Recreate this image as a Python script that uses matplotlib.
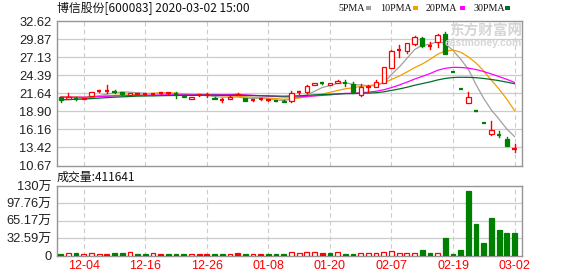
import matplotlib
matplotlib.use('Agg')
import matplotlib.pyplot as plt
import numpy as np
import pandas as pd
from matplotlib.patches import Rectangle

# ---------------- data ----------------
dates = ['11-29', '12-02', '12-03', '12-04', '12-05', '12-06', '12-09', '12-10', '12-11', '12-12',
         '12-13', '12-16', '12-17', '12-18', '12-19', '12-20', '12-23', '12-24', '12-25', '12-26',
         '12-27', '12-30', '12-31', '01-02', '01-03', '01-06', '01-07', '01-08', '01-09', '01-10',
         '01-13', '01-14', '01-15', '01-16', '01-17', '01-20', '01-21', '01-22', '01-23', '02-03',
         '02-04', '02-05', '02-06', '02-07', '02-10', '02-11', '02-12', '02-13', '02-14', '02-17',
         '02-18', '02-19', '02-20', '02-21', '02-24', '02-25', '02-26', '02-27', '02-28', '03-02']

open_ = [21.11, 20.78, 20.80, 20.80, 21.24, 21.95, 22.05, 21.92, 21.76, 21.45,
         21.55, 21.52, 21.50, 21.72, 21.63, 21.56, 21.30, 20.78, 21.55, 21.46,
         20.98, 20.62, 20.74, 21.60, 20.90, 20.62, 20.72, 20.58, 20.52, 20.53,
         20.53, 21.78, 21.80, 22.91, 23.18, 22.91, 23.26, 23.23, 23.07, 21.39,
         22.65, 22.66, 23.27, 25.55, 28.23, 28.13, 29.10, 30.02, 28.83, 29.41,
         30.67, 24.83, 22.35, 20.12, 19.00, 17.05, 15.42, 15.35, 14.70, 13.20]
close = [20.61, 21.00, 20.79, 20.90, 21.80, 22.00, 22.02, 21.88, 21.50, 21.62,
         21.60, 21.55, 21.55, 21.70, 21.65, 21.55, 21.05, 21.13, 21.35, 21.44,
         20.74, 20.63, 21.14, 21.45, 20.53, 20.63, 20.70, 20.62, 20.48, 20.33,
         21.65, 21.80, 22.76, 23.17, 23.17, 23.16, 23.52, 23.22, 21.90, 22.66,
         22.66, 23.42, 25.61, 28.13, 28.24, 29.26, 30.17, 28.85, 28.84, 30.52,
         27.59, 24.83, 22.35, 21.04, 18.94, 17.05, 16.07, 15.31, 13.68, 13.22]
high = [21.15, 21.67, 21.05, 20.95, 21.85, 22.15, 22.92, 22.20, 21.82, 21.70,
        21.65, 21.60, 21.60, 21.80, 21.70, 21.90, 21.35, 21.15, 21.60, 21.70,
        21.00, 20.88, 21.20, 21.62, 20.95, 20.75, 20.85, 20.70, 20.58, 20.58,
        22.00, 21.95, 22.85, 23.25, 23.30, 23.20, 23.60, 23.68, 23.37, 23.07,
        22.91, 23.68, 25.61, 28.17, 29.00, 29.30, 30.37, 30.26, 29.50, 30.67,
        31.02, 24.83, 22.35, 21.89, 19.05, 17.15, 17.44, 15.96, 15.05, 13.92]
low = [20.35, 20.70, 20.60, 20.75, 21.20, 21.80, 21.65, 21.70, 21.45, 21.40,
       21.50, 21.40, 21.45, 21.60, 21.58, 20.92, 21.00, 20.75, 21.30, 21.05,
       20.70, 20.30, 20.70, 21.40, 20.45, 20.50, 20.60, 20.50, 20.42, 20.30,
       20.37, 21.60, 21.75, 22.85, 23.05, 22.85, 23.20, 22.76, 21.70, 21.24,
       21.90, 22.60, 23.20, 25.50, 27.13, 27.78, 29.00, 28.65, 28.35, 28.74,
       27.59, 24.83, 22.35, 20.12, 18.94, 17.05, 15.35, 14.96, 13.68, 12.65]
# closes of the 29 sessions before the window (estimated from the starting MA levels)
prior_close = [19.55, 19.62, 19.70, 19.78, 19.85, 19.80, 19.88, 19.95, 20.02, 20.05,
               20.85, 21.05, 20.90, 21.00, 21.10, 20.95, 20.85, 21.00, 20.92, 20.98,
               21.10, 21.25, 21.30, 21.15, 21.20, 21.28, 21.22, 21.15, 21.15]
volume = [20000, 38000, 38000, 20000, 38000, 20000, 20000, 38000, 38000, 58000,
          20000, 20000, 38000, 20000, 20000, 20000, 20000, 20000, 20000, 20000,
          20000, 20000, 20000, 38000, 20000, 20000, 20000, 20000, 20000, 20000,
          60000, 44000, 60000, 60000, 42000, 44000, 60000, 25000, 25000, 44000,
          44000, 44000, 60000, 80000, 44000, 44000, 44000, 100000, 44000, 44000,
          320000, 25000, 100000, 1200000, 590000, 230000, 700000, 470000, 417000, 411641]

ma_periods = [5, 10, 20, 30]
ma_names = ['5PMA', '10PMA', '20PMA', '30PMA']
price_ticks = [10.67, 13.42, 16.16, 18.90, 21.64, 24.39, 27.13, 29.87, 32.62]
vol_ticks = [0, 325900, 651700, 977600, 1300000]
vol_tick_labels = ['0', '32.59万', '65.17万', '97.76万', '130万']
title = '博信股份[600083] 2020-03-02 15:00'
vol_title = '成交量:411641'

# ---------------- style ----------------
RED = '#ff0000'
GREEN = '#008000'
MA_COLORS = ['#a0a0a0', '#f0a000', '#ff00ff', '#006e28']
GRID = '#cccccc'
SPINE = '#959595'
LABEL_FONT = ['Liberation Sans', 'Noto Sans CJK SC']
CJK_FONT = ['Noto Sans CJK SC', 'DejaVu Sans']

W, H = 578, 276
fig = plt.figure(figsize=(W / 100, H / 100), dpi=100)
fig.patch.set_facecolor('white')

def fx(px):
    return px / W

def fy(py):
    return 1 - py / H

ax = fig.add_axes([fx(57), fy(165.5), fx(465), 144.5 / H])
axv = fig.add_axes([fx(57), fy(255.5), fx(465), 69.5 / H])

n = len(close)
x = np.arange(n)
xlim = (-0.48, n - 0.03)

all_close = pd.Series(prior_close + close)
mas = [all_close.rolling(p).mean().values[len(prior_close):] for p in ma_periods]

tick_idx = list(range(3, n, 8))

for a in (ax, axv):
    a.set_xlim(*xlim)
    for s in a.spines.values():
        s.set_color(SPINE)
        s.set_linewidth(1.0)
    a.set_xticks(tick_idx)
    for t in tick_idx:
        a.axvline(t, color=GRID, lw=0.8, ls=(0, (4, 3)), zorder=0)
    a.tick_params(length=0, pad=4, labelsize=9.3, labelcolor='#222222')

ax.set_ylim(price_ticks[0], price_ticks[-1])
ax.set_yticks(price_ticks)
ax.set_yticklabels([f'{t:.2f}' for t in price_ticks], family=LABEL_FONT)
for t in price_ticks[1:-1]:
    ax.axhline(t, color=GRID, lw=0.9, zorder=0)
ax.set_xticklabels([])

axv.set_ylim(0, vol_ticks[-1])
axv.set_yticks(vol_ticks)
axv.set_yticklabels(vol_tick_labels, family=LABEL_FONT)
for t in vol_ticks[1:-1]:
    axv.axhline(t, color=GRID, lw=0.9, zorder=0)
axv.set_xticklabels([dates[i] for i in tick_idx], family=LABEL_FONT, color=RED, fontsize=9)
axv.tick_params(axis='x', pad=3, labelcolor=RED)

# ---------------- watermark ----------------
fig.text(fx(522), fy(31), '东方财富网', family=CJK_FONT, fontsize=10.5,
         fontweight='bold', color='#d6d6d6', ha='right', va='center', zorder=0.5)
fig.text(fx(522), fy(43), 'eastmoney.com', family=['Liberation Sans'],
         fontsize=7.4, fontweight='bold', color='#d6d6d6', ha='right', va='center', zorder=0.5)
ax.patch.set_alpha(0)

# ---------------- candles ----------------
bw = 0.56
min_body = 0.14
for i in range(n):
    o, c, h, l = open_[i], close[i], high[i], low[i]
    pc = close[i - 1] if i > 0 else prior_close[-1]
    if c > o:
        col, hollow = RED, True
    elif c < o:
        col, hollow = (RED if c > pc else GREEN), False
    else:
        col, hollow = (RED if c >= pc else GREEN), False
    top, bot = max(o, c), min(o, c)
    if top - bot < min_body * 0.6:
        ax.plot([i - bw / 2, i + bw / 2], [c, c], color=col, lw=1.6, solid_capstyle='butt', zorder=3)
        if h > l:
            ax.plot([i, i], [l, h], color=col, lw=1.0, zorder=3)
        continue
    if top - bot < min_body:
        mid = (top + bot) / 2
        top, bot = mid + min_body / 2, mid - min_body / 2
    ax.plot([i, i], [top, max(h, top)], color=col, lw=1.0, zorder=3)
    ax.plot([i, i], [min(l, bot), bot], color=col, lw=1.0, zorder=3)
    ax.add_patch(Rectangle((i - bw / 2, bot), bw, top - bot,
                           facecolor='white' if hollow else col, edgecolor=col,
                           lw=0.9, zorder=4))

for m, colr in zip(mas, MA_COLORS):
    ax.plot(x, m, color=colr, lw=0.9, zorder=2)

# ---------------- volume ----------------
vw = 0.62
for i in range(n):
    o, c = open_[i], close[i]
    pc = close[i - 1] if i > 0 else prior_close[-1]
    col = RED if c >= pc else GREEN
    hollow = (c > o) and (c >= pc)
    axv.add_patch(Rectangle((i - vw / 2, 0), vw, volume[i],
                            facecolor='white' if hollow else col, edgecolor=col,
                            lw=0.9, zorder=3))

# ---------------- texts ----------------
fig.text(fx(57), fy(8), title, family=CJK_FONT, fontsize=8.6, color='#111111', va='center', ha='left')
fig.text(fx(57), fy(177.5), vol_title, family=CJK_FONT, fontsize=8.6, color='#111111', va='center', ha='left')

leg_x = [338, 380, 426, 473]
sq_x = [366, 413, 460, 505]
for name, colr, lx, sx in zip(ma_names, MA_COLORS, leg_x, sq_x):
    fig.text(fx(lx), fy(8.5), name, family=['Liberation Serif'], fontsize=7.2, color='#111111',
             va='center', ha='left')
    fig.patches.append(Rectangle((fx(sx), fy(10)), fx(5), 4 / H, transform=fig.transFigure,
                                 facecolor=colr, edgecolor='none'))

fig.savefig('out.png', dpi=100, facecolor='white')
